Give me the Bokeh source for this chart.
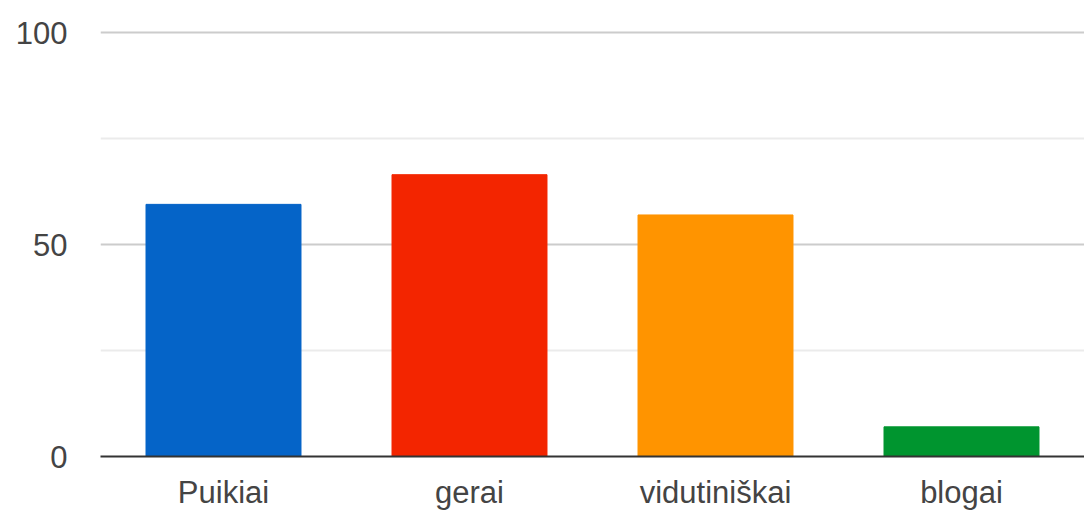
from bokeh.plotting import figure
from bokeh.models import Range1d, FixedTicker, ColumnDataSource
from bokeh.embed import file_html
from bokeh.resources import INLINE

categories = ["Puikiai", "gerai", "vidutiniškai", "blogai"]
values = [59.5, 66.5, 57, 7]
colors = ["#0564c8", "#f32500", "#ff9400", "#00952f"]
y_ticks = [0, 50, 100]
y_minor = [25, 75]

src = ColumnDataSource(dict(cat=categories, val=values, col=colors))

p = figure(x_range=categories, y_range=Range1d(0, 101),
           frame_width=984, frame_height=428,
           min_border_left=100, min_border_right=0, min_border_top=28, min_border_bottom=0,
           output_backend="svg", toolbar_location=None)

p.vbar(x="cat", top="val", width=0.63, color="col", source=src)

p.outline_line_color = None
p.background_fill_color = "white"
p.border_fill_color = "white"

font = "Liberation Sans"
p.yaxis.ticker = FixedTicker(ticks=y_ticks, minor_ticks=y_minor)
p.yaxis.axis_line_color = None
p.yaxis.major_tick_line_color = None
p.yaxis.minor_tick_line_color = None
p.yaxis.major_label_standoff = 27
p.yaxis.major_label_text_font = font
p.yaxis.major_label_text_font_size = "31px"
p.yaxis.major_label_text_color = "#444444"

p.xaxis.axis_line_color = "#333333"
p.xaxis.axis_line_width = 2
p.xaxis.major_tick_line_color = None
p.xaxis.minor_tick_line_color = None
p.xaxis.major_label_standoff = 12
p.xaxis.major_label_text_font = font
p.xaxis.major_label_text_font_size = "31px"
p.xaxis.major_label_text_color = "#444444"

p.xgrid.grid_line_color = None
p.ygrid.grid_line_color = "#cccccc"
p.ygrid.grid_line_width = 2
p.ygrid.minor_grid_line_color = "#ebebeb"
p.ygrid.minor_grid_line_width = 2

open("out.html", "w").write(file_html(p, INLINE))
